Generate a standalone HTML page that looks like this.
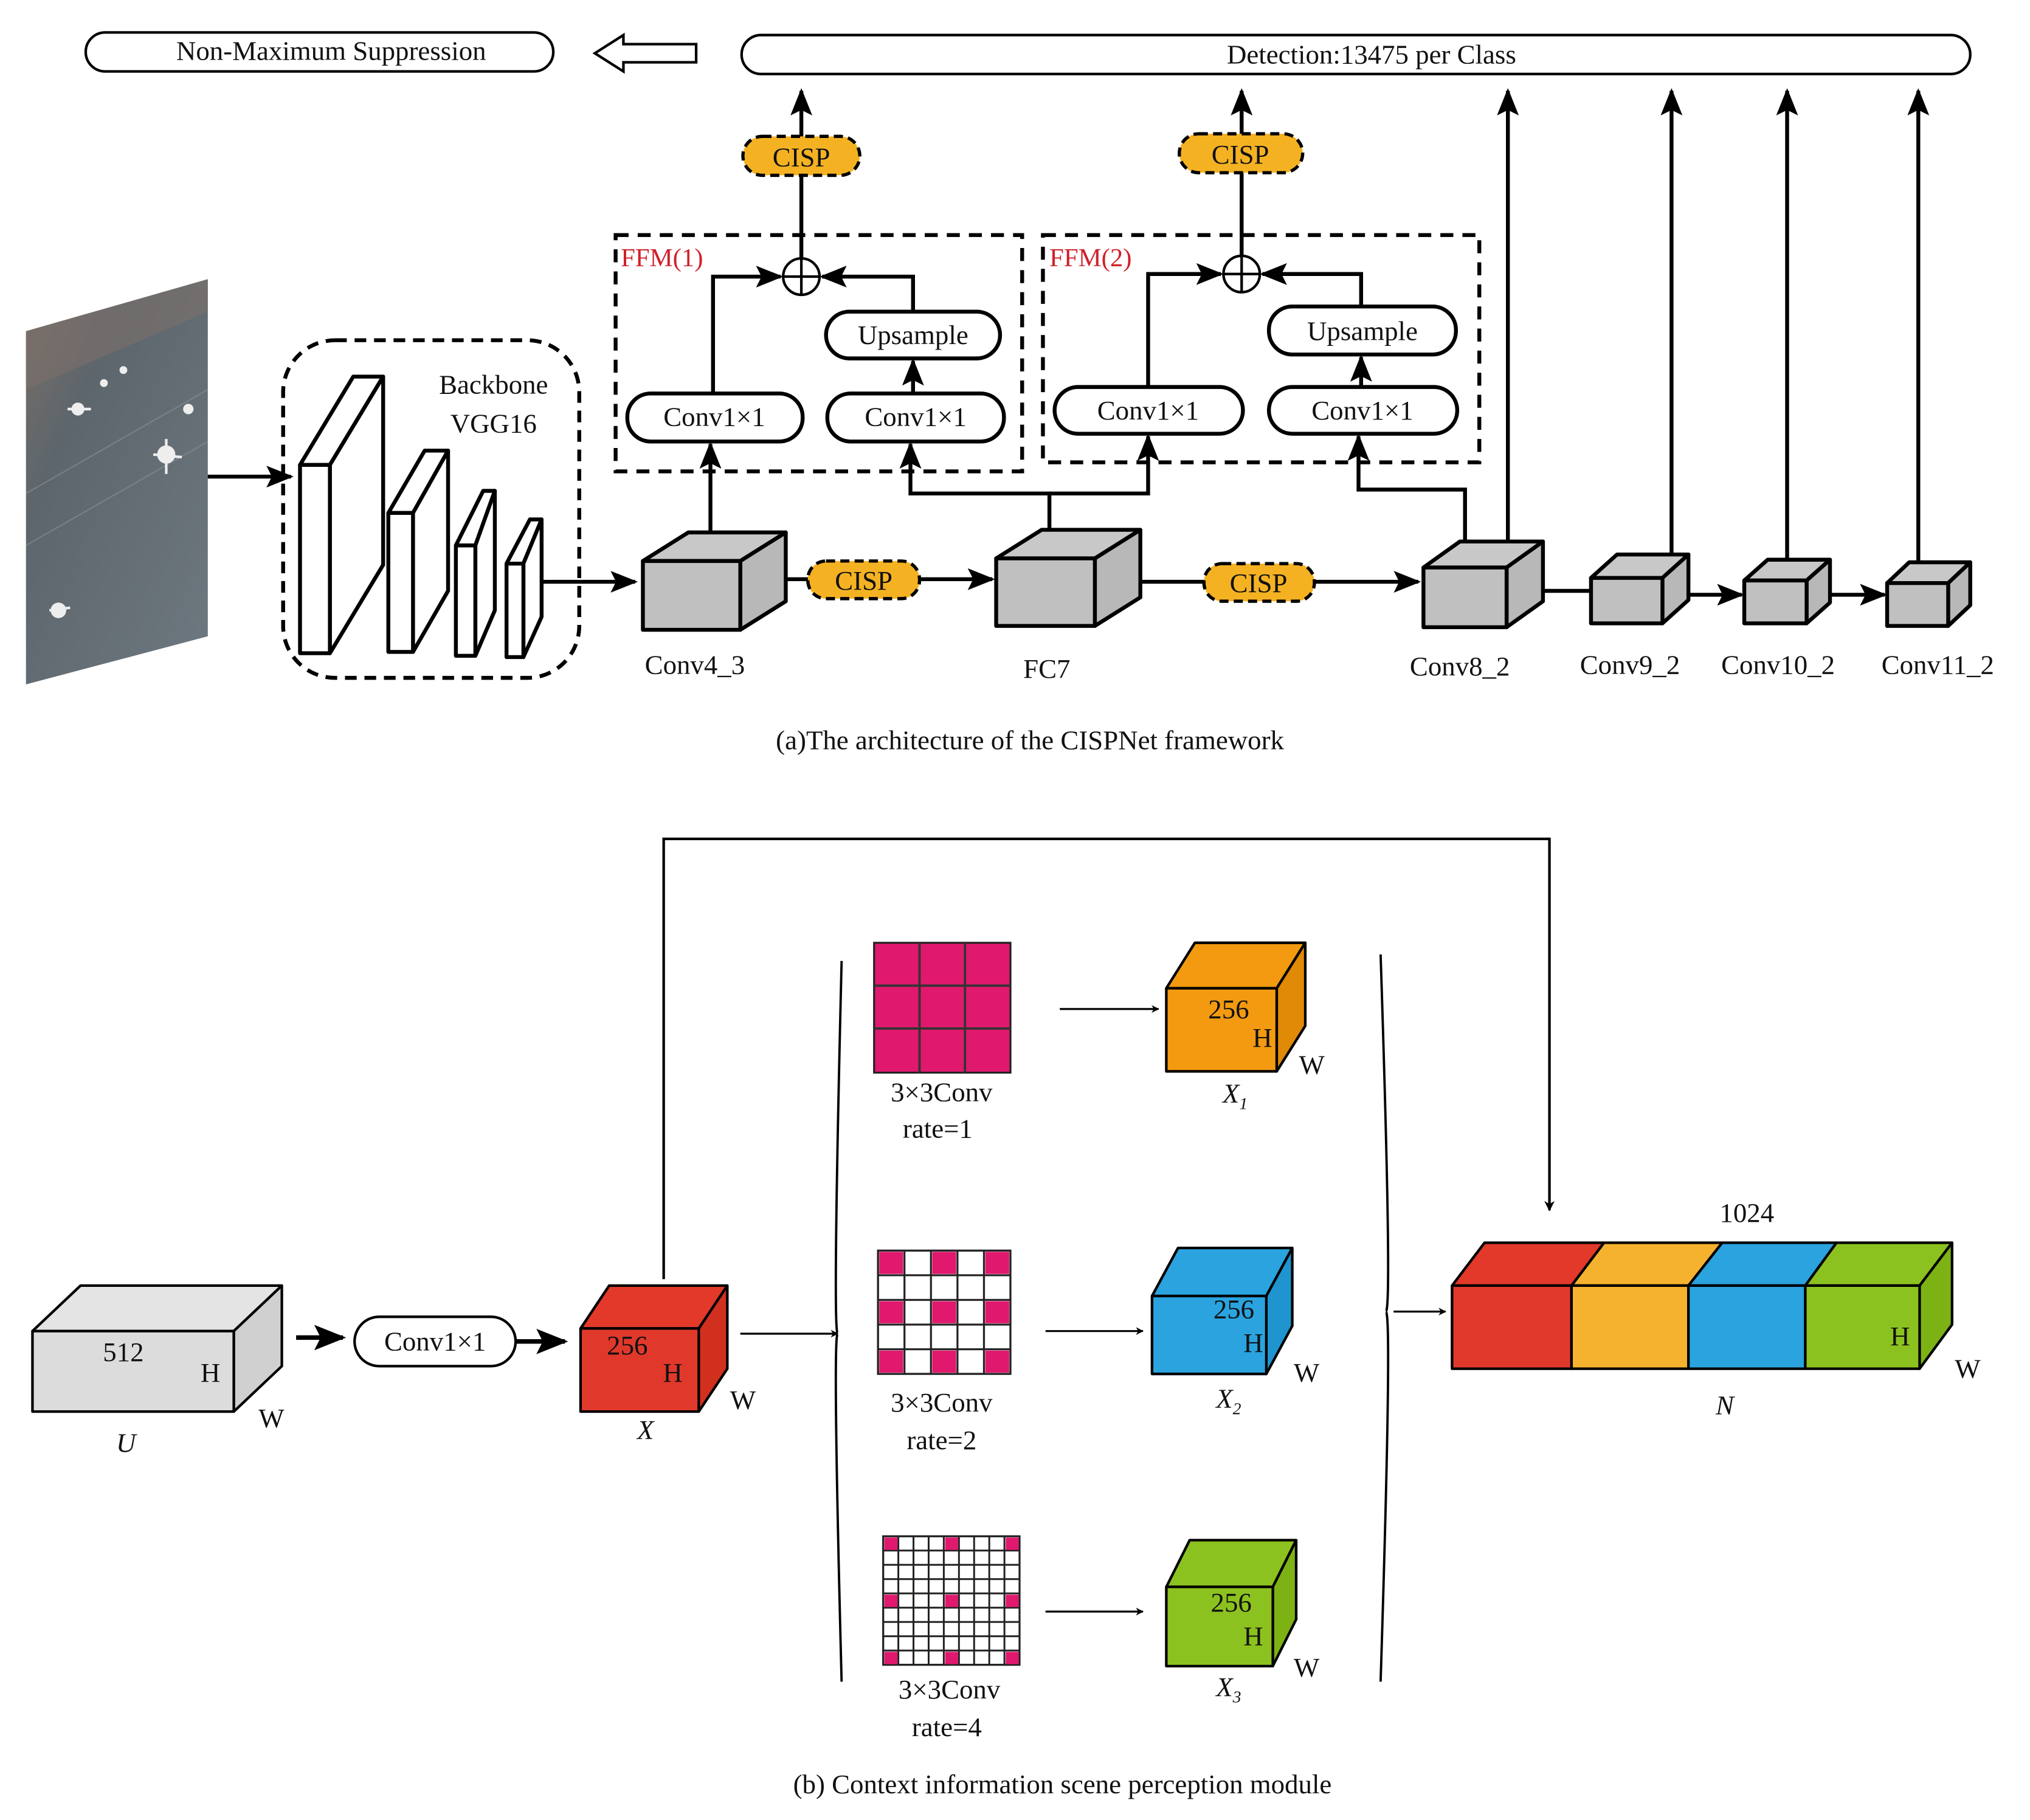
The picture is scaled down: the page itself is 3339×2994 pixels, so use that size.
<!DOCTYPE html>
<html><head><meta charset="utf-8"><style>
html,body{margin:0;padding:0;background:#fff}
svg{display:block}
svg text{font-family:"Liberation Serif","DejaVu Serif",serif;fill:#111}
</style></head><body>
<svg width="3339" height="2994" viewBox="0 0 1563 1401.5" xmlns="http://www.w3.org/2000/svg" font-family="'Liberation Serif','DejaVu Serif',serif">
<defs>
<marker id="a" viewBox="0 0 10 10" refX="9" refY="5" markerWidth="4" markerHeight="4" orient="auto-start-reverse"><path d="M0,0 L10,5 L0,10 L3,5 z" fill="#000"/></marker>
<marker id="b" viewBox="0 0 10 10" refX="9" refY="5" markerWidth="7" markerHeight="7" orient="auto"><path d="M0,1 L10,5 L0,9 L2,5 z" fill="#000"/></marker>
<linearGradient id="img" x1="0" y1="0" x2="1" y2="1"><stop offset="0" stop-color="#7a6e66"/><stop offset="0.3" stop-color="#5d666c"/><stop offset="1" stop-color="#6e7880"/></linearGradient>
<pattern id="g2" x="676" y="963" width="20.4" height="19" patternUnits="userSpaceOnUse"><rect width="20.4" height="19" fill="#fff" stroke="#222" stroke-width="1.5"/></pattern>
<pattern id="g3" x="680" y="1183" width="11.67" height="11" patternUnits="userSpaceOnUse"><rect width="11.67" height="11" fill="#fff" stroke="#222" stroke-width="1.4"/></pattern>
</defs>

<!-- TOP -->
<rect x="66" y="25" width="360" height="30" rx="15" fill="#fff" stroke="#000" stroke-width="2"/>
<text x="255" y="46" font-size="21" text-anchor="middle">Non-Maximum Suppression</text>
<path d="M536,34 L480,34 L480,27 L458,41 L480,55 L480,48 L536,48 Z" fill="#fff" stroke="#000" stroke-width="2"/>
<rect x="571" y="27" width="946" height="30" rx="15" fill="#fff" stroke="#000" stroke-width="2"/>
<text x="1056" y="49" font-size="21" text-anchor="middle">Detection:13475 per Class</text>

<!-- image -->
<polygon points="20,255 160,215 160,490 20,527" fill="url(#img)"/>
<polygon points="20,255 160,215 160,240 20,300" fill="#7b706a" opacity="0.6"/>
<g stroke="#8a9096" stroke-width="1" opacity="0.6"><line x1="20" y1="380" x2="160" y2="300"/><line x1="20" y1="420" x2="160" y2="340"/></g>
<g fill="#eee"><circle cx="60" cy="315" r="5"/><circle cx="128" cy="350" r="7"/><circle cx="45" cy="470" r="6"/><circle cx="145" cy="315" r="4"/><circle cx="80" cy="295" r="3"/><circle cx="95" cy="285" r="3"/></g>
<g stroke="#eee" stroke-width="2"><line x1="118" y1="350" x2="140" y2="352"/><line x1="128" y1="338" x2="128" y2="365"/><line x1="52" y1="315" x2="70" y2="315"/><line x1="38" y1="470" x2="54" y2="468"/></g>
<line x1="160" y1="367" x2="224" y2="367" stroke="#000" stroke-width="3" marker-end="url(#b)"/>

<!-- backbone -->
<rect x="218" y="262" width="228" height="260" rx="40" fill="none" stroke="#000" stroke-width="3" stroke-dasharray="9,6"/>
<text x="380" y="303" font-size="21" text-anchor="middle">Backbone</text>
<text x="380" y="333" font-size="21" text-anchor="middle">VGG16</text>
<g fill="#fff" stroke="#000" stroke-width="3" stroke-linejoin="round">
<polygon points="231,358 272,290 295,290 254,358"/><polygon points="254,358 295,290 295,435 254,503"/><rect x="231" y="358" width="23" height="145"/>
<polygon points="299,395 327,347 345,347 318,395"/><polygon points="318,395 345,347 345,455 318,502"/><rect x="299" y="395" width="19" height="107"/>
<polygon points="351,420 372,378 381,378 366,420"/><polygon points="366,420 381,378 381,470 366,505"/><rect x="351" y="420" width="15" height="85"/>
<polygon points="390,434 408,400 417,400 403,434"/><polygon points="403,434 417,400 417,475 403,506"/><rect x="390" y="434" width="13" height="72"/>
</g>
<line x1="418" y1="448" x2="489" y2="448" stroke="#000" stroke-width="3" marker-end="url(#b)"/>

<!-- FFM boxes -->
<rect x="474" y="181" width="313" height="182" fill="none" stroke="#000" stroke-width="3" stroke-dasharray="10,7"/>
<rect x="803" y="181" width="336" height="175" fill="none" stroke="#000" stroke-width="3" stroke-dasharray="10,7"/>
<text x="478" y="205" font-size="20" style="fill:#d0202a">FFM(1)</text>
<text x="808" y="205" font-size="20" style="fill:#d0202a">FFM(2)</text>

<g fill="#fff" stroke="#000" stroke-width="3">
<rect x="483" y="303" width="135" height="37" rx="18"/>
<rect x="637" y="303" width="136" height="37" rx="18"/>
<rect x="636" y="240" width="134" height="36" rx="18"/>
<rect x="812" y="298" width="145" height="36" rx="18"/>
<rect x="977" y="298" width="145" height="36" rx="18"/>
<rect x="977" y="236" width="144" height="37" rx="18"/>
</g>
<g font-size="21" text-anchor="middle">
<text x="550" y="328">Conv1×1</text><text x="705" y="328">Conv1×1</text><text x="703" y="265">Upsample</text>
<text x="884" y="323">Conv1×1</text><text x="1049" y="323">Conv1×1</text><text x="1049" y="262">Upsample</text>
</g>

<g fill="none" stroke="#000" stroke-width="3">
<circle cx="617" cy="213" r="14" stroke-width="2"/><line x1="603" y1="213" x2="631" y2="213" stroke-width="2"/><line x1="617" y1="199" x2="617" y2="227" stroke-width="2"/>
<circle cx="956" cy="211" r="14" stroke-width="2"/><line x1="942" y1="211" x2="970" y2="211" stroke-width="2"/><line x1="956" y1="197" x2="956" y2="225" stroke-width="2"/>
<polyline points="549,303 549,213 601,213" marker-end="url(#b)"/>
<polyline points="703,240 703,213 633,213" marker-end="url(#b)"/>
<line x1="703" y1="303" x2="703" y2="278" marker-end="url(#b)"/>
<line x1="547" y1="410" x2="547" y2="342" marker-end="url(#b)"/>
<polyline points="808,410 808,380 701,380 701,342" marker-end="url(#b)"/>
<polyline points="808,380 884,380 884,336" marker-end="url(#b)"/>
<polyline points="884,298 884,211 940,211" marker-end="url(#b)"/>
<polyline points="1048,236 1048,211 972,211" marker-end="url(#b)"/>
<line x1="1048" y1="298" x2="1048" y2="275" marker-end="url(#b)"/>
<polyline points="1128,420 1128,377 1046,377 1046,336" marker-end="url(#b)"/>
<line x1="617" y1="199" x2="617" y2="70" marker-end="url(#b)"/>
<line x1="956" y1="197" x2="956" y2="70" marker-end="url(#b)"/>
<line x1="1161" y1="422" x2="1161" y2="70" marker-end="url(#b)"/>
<line x1="1287" y1="428" x2="1287" y2="70" marker-end="url(#b)"/>
<line x1="1376" y1="432" x2="1376" y2="70" marker-end="url(#b)"/>
<line x1="1477" y1="434" x2="1477" y2="70" marker-end="url(#b)"/>
<line x1="605" y1="446" x2="764" y2="446" marker-end="url(#b)"/>
<line x1="878" y1="448" x2="1092" y2="448" marker-end="url(#b)"/>
<line x1="1188" y1="455" x2="1225" y2="455"/>
<line x1="1300" y1="458" x2="1341" y2="458" marker-end="url(#b)"/>
<line x1="1409" y1="458" x2="1451" y2="458" marker-end="url(#b)"/>
</g>

<!-- CISP pills -->
<g fill="#f4b223" stroke="#000" stroke-width="2.5" stroke-dasharray="7,4">
<rect x="572" y="105" width="90" height="30" rx="15"/>
<rect x="908" y="103" width="95" height="30" rx="15"/>
<rect x="622" y="432" width="86" height="29" rx="14"/>
<rect x="927" y="434" width="85" height="29" rx="14"/>
</g>
<g font-size="21" text-anchor="middle">
<text x="617" y="128">CISP</text><text x="955" y="126">CISP</text><text x="665" y="454">CISP</text><text x="969" y="456">CISP</text>
</g>

<!-- gray cubes -->
<g stroke="#000" stroke-width="3" stroke-linejoin="round">
<polygon points="495,432 530,410 605,410 570,432" fill="#c8c8c8"/><polygon points="570,432 605,410 605,463 570,485" fill="#b8b8b8"/><rect x="495" y="432" width="75" height="53" fill="#c0c0c0"/>
<polygon points="767,430 802,408 878,408 843,430" fill="#c8c8c8"/><polygon points="843,430 878,408 878,460 843,482" fill="#b8b8b8"/><rect x="767" y="430" width="76" height="52" fill="#c0c0c0"/>
<polygon points="1096,437 1124,417 1188,417 1160,437" fill="#c8c8c8"/><polygon points="1160,437 1188,417 1188,463 1160,483" fill="#b8b8b8"/><rect x="1096" y="437" width="64" height="46" fill="#c0c0c0"/>
<polygon points="1225,445 1245,427 1300,427 1280,445" fill="#c8c8c8"/><polygon points="1280,445 1300,427 1300,462 1280,480" fill="#b8b8b8"/><rect x="1225" y="445" width="55" height="35" fill="#c0c0c0"/>
<polygon points="1343,447 1361,431 1409,431 1391,447" fill="#c8c8c8"/><polygon points="1391,447 1409,431 1409,464 1391,480" fill="#b8b8b8"/><rect x="1343" y="447" width="48" height="33" fill="#c0c0c0"/>
<polygon points="1453,449 1470,433 1517,433 1500,449" fill="#c8c8c8"/><polygon points="1500,449 1517,433 1517,466 1500,482" fill="#b8b8b8"/><rect x="1453" y="449" width="47" height="33" fill="#c0c0c0"/>
</g>
<g font-size="21" text-anchor="middle">
<text x="535" y="519">Conv4_3</text><text x="806" y="522">FC7</text><text x="1124" y="520">Conv8_2</text>
<text x="1255" y="519">Conv9_2</text><text x="1369" y="519">Conv10_2</text><text x="1492" y="519">Conv11_2</text>
</g>
<text x="793" y="577" font-size="21" text-anchor="middle">(a)The architecture of the CISPNet framework</text>

<!-- BOTTOM -->
<polyline points="511,985 511,646 1193,646 1193,932" fill="none" stroke="#000" stroke-width="2" marker-end="url(#a)"/>

<!-- U -->
<g stroke="#000" stroke-width="2" stroke-linejoin="round">
<polygon points="25,1025 62,990 217,990 180,1025" fill="#e4e4e4"/><polygon points="180,1025 217,990 217,1052 180,1087" fill="#d0d0d0"/><rect x="25" y="1025" width="155" height="62" fill="#dcdcdc"/>
</g>
<text x="95" y="1048" font-size="21" text-anchor="middle">512</text>
<text x="162" y="1064" font-size="21" text-anchor="middle">H</text>
<text x="209" y="1099" font-size="21" text-anchor="middle">W</text>
<text x="97" y="1118" font-size="21" font-style="italic" text-anchor="middle">U</text>
<line x1="228" y1="1030" x2="264" y2="1030" stroke="#000" stroke-width="3.5" marker-end="url(#b)"/>
<rect x="273" y="1014" width="124" height="38" rx="19" fill="#fff" stroke="#000" stroke-width="2"/>
<text x="335" y="1040" font-size="21" text-anchor="middle">Conv1×1</text>
<line x1="397" y1="1033" x2="435" y2="1033" stroke="#000" stroke-width="3.5" marker-end="url(#b)"/>

<!-- X -->
<g stroke="#000" stroke-width="2" stroke-linejoin="round">
<polygon points="447,1023 469,990 560,990 538,1023" fill="#e2392b"/><polygon points="538,1023 560,990 560,1054 538,1087" fill="#d2301f"/><rect x="447" y="1023" width="91" height="64" fill="#e0392b"/>
</g>
<text x="483" y="1043" font-size="21" text-anchor="middle">256</text>
<text x="518" y="1064" font-size="21" text-anchor="middle">H</text>
<text x="572" y="1085" font-size="21" text-anchor="middle">W</text>
<text x="497" y="1108" font-size="21" font-style="italic" text-anchor="middle">X</text>
<line x1="570" y1="1027" x2="645" y2="1027" stroke="#000" stroke-width="1.5" marker-end="url(#a)"/>

<!-- brackets -->
<path d="M648,740 Q641,1027 645,1027 Q641,1027 648,1295" fill="none" stroke="#000" stroke-width="1.8"/>
<path d="M1063,735 Q1072,1010 1067,1010 Q1072,1010 1063,1295" fill="none" stroke="#000" stroke-width="1.8"/>

<!-- kernels -->
<rect x="673" y="726" width="105" height="100" fill="#e0196e" stroke="#222" stroke-width="1.5"/>
<g stroke="#333" stroke-width="1.8"><line x1="708" y1="726" x2="708" y2="826"/><line x1="743" y1="726" x2="743" y2="826"/><line x1="673" y1="759" x2="778" y2="759"/><line x1="673" y1="792" x2="778" y2="792"/></g>
<text x="725" y="848" font-size="21" text-anchor="middle">3×3Conv</text>
<text x="722" y="876" font-size="21" text-anchor="middle">rate=1</text>

<rect x="676" y="963" width="102" height="95" fill="url(#g2)" stroke="#222" stroke-width="1.5"/>
<g fill="#e0196e">
<rect x="677" y="964" width="18.4" height="17"/><rect x="717.8" y="964" width="18.4" height="17"/><rect x="758.6" y="964" width="18.4" height="17"/>
<rect x="677" y="1002" width="18.4" height="17"/><rect x="717.8" y="1002" width="18.4" height="17"/><rect x="758.6" y="1002" width="18.4" height="17"/>
<rect x="677" y="1040" width="18.4" height="17"/><rect x="717.8" y="1040" width="18.4" height="17"/><rect x="758.6" y="1040" width="18.4" height="17"/>
</g>
<text x="725" y="1087" font-size="21" text-anchor="middle">3×3Conv</text>
<text x="725" y="1116" font-size="21" text-anchor="middle">rate=2</text>

<rect x="680" y="1183" width="105" height="99" fill="url(#g3)" stroke="#222" stroke-width="1.5"/>
<g fill="#e0196e">
<rect x="681" y="1184" width="10" height="9.5"/><rect x="727.7" y="1184" width="10" height="9.5"/><rect x="774.4" y="1184" width="10" height="9.5"/>
<rect x="681" y="1228" width="10" height="9.5"/><rect x="727.7" y="1228" width="10" height="9.5"/><rect x="774.4" y="1228" width="10" height="9.5"/>
<rect x="681" y="1272" width="10" height="9.5"/><rect x="727.7" y="1272" width="10" height="9.5"/><rect x="774.4" y="1272" width="10" height="9.5"/>
</g>
<text x="731" y="1308" font-size="21" text-anchor="middle">3×3Conv</text>
<text x="729" y="1337" font-size="21" text-anchor="middle">rate=4</text>

<g stroke="#000" stroke-width="1.5">
<line x1="816" y1="777" x2="892" y2="777" marker-end="url(#a)"/>
<line x1="805" y1="1025" x2="880" y2="1025" marker-end="url(#a)"/>
<line x1="805" y1="1241" x2="880" y2="1241" marker-end="url(#a)"/>
<line x1="1073" y1="1010" x2="1113" y2="1010" marker-end="url(#a)"/>
</g>

<!-- X1 X2 X3 -->
<g stroke="#000" stroke-width="2" stroke-linejoin="round">
<polygon points="898,761 920,726 1005,726 983,761" fill="#f39a10"/><polygon points="983,761 1005,726 1005,790 983,825" fill="#e08a08"/><rect x="898" y="761" width="85" height="64" fill="#f39a10"/>
<polygon points="887,998 907,961 995,961 975,998" fill="#2aa3df"/><polygon points="975,998 995,961 995,1021 975,1058" fill="#1f94cf"/><rect x="887" y="998" width="88" height="60" fill="#2aa3df"/>
<polygon points="898,1222 916,1186 998,1186 980,1222" fill="#8cc21f"/><polygon points="980,1222 998,1186 998,1247 980,1283" fill="#7db214"/><rect x="898" y="1222" width="82" height="61" fill="#8cc21f"/>
</g>
<g font-size="21" text-anchor="middle">
<text x="946" y="784">256</text><text x="972" y="806">H</text><text x="1010" y="827">W</text>
<text x="950" y="1015">256</text><text x="965" y="1041">H</text><text x="1006" y="1064">W</text>
<text x="948" y="1241">256</text><text x="965" y="1267">H</text><text x="1006" y="1291">W</text>
</g>
<g font-size="21" font-style="italic" text-anchor="middle">
<text x="951" y="849">X<tspan font-size="13" dy="5">1</tspan></text>
<text x="946" y="1084">X<tspan font-size="13" dy="5">2</tspan></text>
<text x="946" y="1306">X<tspan font-size="13" dy="5">3</tspan></text>
</g>

<!-- N -->
<g stroke="#000" stroke-width="2" stroke-linejoin="round">
<polygon points="1118,990 1143,957 1235,957 1210,990" fill="#e2392b"/>
<polygon points="1210,990 1235,957 1326,957 1300,990" fill="#f5b22e"/>
<polygon points="1300,990 1326,957 1414,957 1390,990" fill="#2aa3df"/>
<polygon points="1390,990 1414,957 1503,957 1478,990" fill="#8cc21f"/>
<polygon points="1478,990 1503,957 1503,1020 1478,1054" fill="#7db214"/>
<rect x="1118" y="990" width="92" height="64" fill="#e0392b"/>
<rect x="1210" y="990" width="90" height="64" fill="#f5b22e"/>
<rect x="1300" y="990" width="90" height="64" fill="#2aa3df"/>
<rect x="1390" y="990" width="88" height="64" fill="#8cc21f"/>
</g>
<text x="1345" y="941" font-size="21" text-anchor="middle">1024</text>
<text x="1463" y="1036" font-size="21" text-anchor="middle">H</text>
<text x="1515" y="1061" font-size="21" text-anchor="middle">W</text>
<text x="1328" y="1089" font-size="21" font-style="italic" text-anchor="middle">N</text>

<text x="818" y="1381" font-size="21" text-anchor="middle">(b) Context information scene perception module</text>
</svg>
</body></html>
